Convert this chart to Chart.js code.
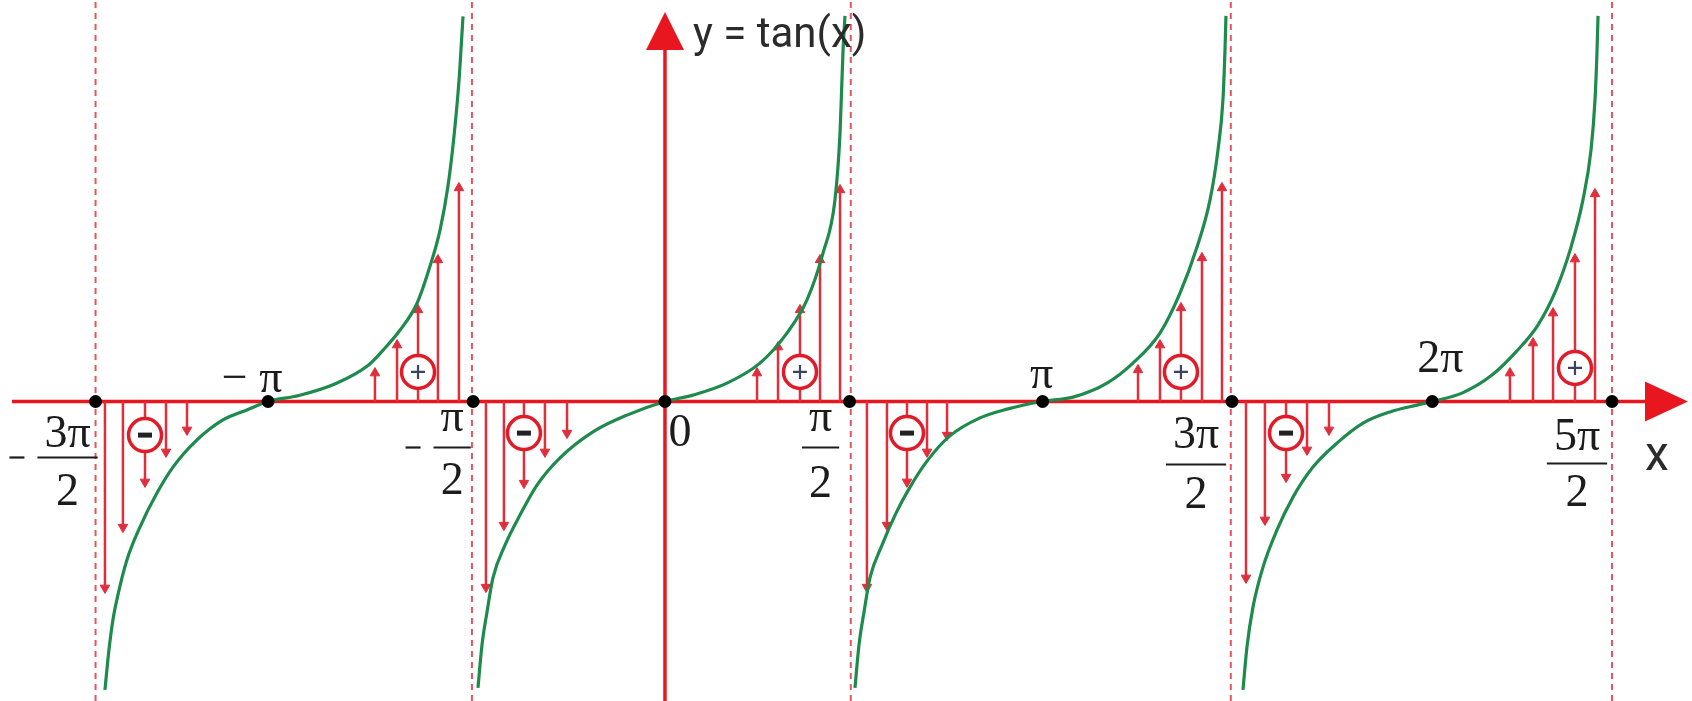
<!DOCTYPE html>
<html><head><meta charset="utf-8">
<script src="https://cdn.jsdelivr.net/npm/chart.js@4.4.1/dist/chart.umd.min.js"></script>
<style>html,body{margin:0;padding:0;background:#fff;}#wrap{width:1692px;height:701px;position:relative;}</style>
</head><body><div id="wrap"><canvas id="c"></canvas></div>
<script>
// ---- data: x in radians, y in tan(x) units ----
const tickValues = [-4.72, -3.29, -1.59, 0, 1.53, 3.13, 4.70, 6.36, 7.85];
const tickLabels = ['−3π/2', '−π', '−π/2', '0', 'π/2', 'π', '3π/2', '2π', '5π/2'];
const asymptotes = [-4.72, -1.60, 1.54, 4.69, 7.85];

const branch1X = [-4.642,-4.609,-4.576,-4.535,-4.460,-4.352,-4.211,-4.078,-3.879,-3.664,-3.465,-3.291,-3.034,-2.727,-2.462,-2.338,-2.197,-2.056,-1.948,-1.865,-1.799,-1.749,-1.708,-1.674];
const branch1Y = [-7.21,-6.21,-5.46,-4.84,-3.96,-3.14,-2.29,-1.64,-0.96,-0.46,-0.21,0,0.15,0.45,0.90,1.28,1.78,2.45,3.38,4.28,5.38,6.63,8.00,9.63];
const branch2X = [-1.550,-1.517,-1.475,-1.426,-1.326,-1.202,-1.061,-0.870,-0.597,-0.315,0,0.232,0.514,0.787,1.011,1.177,1.310,1.409,1.451,1.475,1.492];
const branch2Y = [-7.16,-6.09,-5.26,-4.41,-3.59,-2.84,-2.09,-1.41,-0.76,-0.34,0,0.16,0.46,0.96,1.71,2.54,3.71,5.04,6.71,8.71,9.64];
const branch3X = [1.575,1.608,1.650,1.699,1.799,1.915,2.031,2.172,2.362,2.611,2.835,3.125,3.382,3.664,3.879,4.103,4.269,4.410,4.518,4.584,4.625,4.642,4.650];
const branch3Y = [-7.16,-6.09,-5.26,-4.41,-3.59,-2.79,-2.14,-1.49,-0.86,-0.41,-0.19,0,0.11,0.46,0.96,1.71,2.71,3.86,5.04,6.29,7.54,8.79,9.64];
const branch4X = [4.791,4.824,4.874,4.957,5.073,5.206,5.371,5.570,5.786,6.010,6.234,6.358,6.606,6.855,7.054,7.236,7.386,7.510,7.609,7.676,7.709,7.726,7.734];
const branch4Y = [-7.21,-6.14,-5.14,-4.14,-3.21,-2.39,-1.64,-1.04,-0.54,-0.26,-0.09,0,0.21,0.66,1.24,1.91,2.79,3.86,5.04,6.29,7.54,8.79,9.64];

const stemX = [-4.642,-4.493,-4.310,-4.136,-3.962, -2.404,-2.221,-2.047,-1.882,-1.708,
               -1.484,-1.335,-1.169,-0.995,-0.812, 0.763,0.937,1.119,1.285,1.451,
               1.674,1.840,2.006,2.172,2.338, 3.921,4.103,4.277,4.451,4.617,
               4.816,4.973,5.148,5.322,5.504, 7.004,7.195,7.361,7.543,7.709];
const stemY = [-4.66,-3.14,-2.01,-1.26,-0.71, 0.71,1.41,2.29,3.54,5.34,
               -4.64,-3.09,-2.04,-1.26,-0.79, 0.71,1.36,2.29,3.54,5.29,
               -4.64,-3.09,-2.01,-1.26,-0.84, 0.79,1.41,2.34,3.59,5.34,
               -4.41,-2.96,-1.89,-1.21,-0.71, 0.71,1.46,2.21,3.56,5.19];

const signX = [-4.310,-2.047,-1.169,1.119,2.006,4.277,5.148,7.543];
const signY = [-0.84,0.74,-0.79,0.74,-0.79,0.74,-0.79,0.84];
const signType = ['−','+','−','+','−','+','−','+'];

// ---- styling ----
const RED = '#e8161f', STEM = '#df2f3d', DASH = '#e55560', GREEN = '#1e8a4c', INK = '#1c1c1c';
const X_MIN = -5.512, X_MAX = 8.513, Y_MIN = -7.4875, Y_MAX = 10.0375;

const pts = (xs, ys) => xs.map((x, i) => ({x, y: ys[i]}));
const asymData = [];
asymptotes.forEach(a => { asymData.push({x:a, y:Y_MIN}, {x:a, y:Y_MAX}, {x:a, y:null}); });
const stemData = [];
stemX.forEach((x, i) => { stemData.push({x, y:0}, {x, y:stemY[i]}, {x, y:null}); });

const curveDs = (xs, ys) => ({
  type:'line', data: pts(xs, ys), borderColor: GREEN, borderWidth: 3.2, pointRadius: 0,
  cubicInterpolationMode: 'monotone', fill: false, order: 6
});

const layout = {
  '−3π/2': {dx:-28, num:45, bar:56, den:103},
  '−π/2':  {dx:-21, num:29, bar:46, den:92},
  'π/2':   {dx:-29, num:29, bar:46, den:95},
  '3π/2':  {dx:-36, num:46, bar:63, den:106},
  '5π/2':  {dx:-35, num:48, bar:62, den:104},
  '0':     {dx:15, base:44},
  '−π':    {dx:-16, base:-10},
  'π':     {dx:-1, base:-14},
  '2π':    {dx:8, base:-30}
};

const axesPlugin = {
  id: 'axes',
  afterDatasetDraw(chart, args) {
    if (args.index !== 0) return;
    const {ctx, chartArea: ca, scales: {x, y}} = chart;
    const ay = y.getPixelForValue(0), ax = x.getPixelForValue(0);
    ctx.save();
    ctx.strokeStyle = RED; ctx.fillStyle = RED; ctx.lineWidth = 3.5;
    ctx.beginPath(); ctx.moveTo(ca.left + 12, ay); ctx.lineTo(ca.right - 40, ay); ctx.stroke();
    ctx.beginPath(); ctx.moveTo(ca.right - 47, ay - 20); ctx.lineTo(ca.right - 4, ay); ctx.lineTo(ca.right - 47, ay + 20); ctx.closePath(); ctx.fill();
    ctx.beginPath(); ctx.moveTo(ax, ca.bottom); ctx.lineTo(ax, ca.top + 45); ctx.stroke();
    ctx.beginPath(); ctx.moveTo(ax - 19, ca.top + 50); ctx.lineTo(ax, ca.top + 12); ctx.lineTo(ax + 19, ca.top + 50); ctx.closePath(); ctx.fill();
    ctx.restore();
  },
  afterDraw(chart) {
    const {ctx, chartArea: ca, scales: {x, y}} = chart;
    const ay = y.getPixelForValue(0), ax = x.getPixelForValue(0);
    ctx.save();
    ctx.fillStyle = INK; ctx.strokeStyle = INK;
    ctx.textAlign = 'center'; ctx.textBaseline = 'alphabetic';
    ctx.font = '46px "Liberation Serif", "DejaVu Serif", serif';
    tickValues.forEach((v, i) => {
      const lab = tickLabels[i], L = layout[lab];
      const px = x.getPixelForValue(v) + L.dx;
      if (lab.includes('/')) {
        const neg = lab.startsWith('−');
        const body = neg ? lab.slice(1) : lab;
        const [num, den] = body.split('/');
        const w = ctx.measureText(num).width / 2 + 7;
        ctx.fillText(num, px, ay + L.num);
        ctx.fillText(den, px, ay + L.den);
        ctx.lineWidth = 2.2;
        ctx.beginPath(); ctx.moveTo(px - w, ay + L.bar); ctx.lineTo(px + w, ay + L.bar); ctx.stroke();
        if (neg) { ctx.beginPath(); ctx.moveTo(px - w - 28, ay + L.bar); ctx.lineTo(px - w - 13, ay + L.bar); ctx.stroke(); }
      } else {
        ctx.fillText(lab === '−π' ? '− π' : lab, px, ay + L.base);
      }
    });
    ctx.font = '42px Roboto, "Noto Sans", sans-serif';
    ctx.fillStyle = '#2b2b2b';
    ctx.textAlign = 'left';
    ctx.fillText('y = tan(x)', ax + 28, ca.top + 47);
    ctx.font = '48px Roboto, "Noto Sans", sans-serif';
    ctx.textAlign = 'center';
    ctx.fillText('x', ca.right - 35, ay + 68);
    ctx.restore();
  }
};

new Chart(document.getElementById('c'), {
  type: 'scatter',
  data: { datasets: [
    { type:'line', data: asymData, borderColor: DASH, borderWidth: 2, borderDash: [6,5], pointRadius: 0, spanGaps: false, order: 10 },
    { type:'line', data: stemData, borderColor: STEM, borderWidth: 2.5, pointRadius: 0, spanGaps: false, order: 8 },
    { data: pts(stemX, stemY), pointStyle: 'triangle', pointRadius: 5.5, backgroundColor: STEM, borderColor: STEM, borderWidth: 1,
      pointRotation: c => (c.raw && c.raw.y < 0) ? 180 : 0, order: 7 },
    curveDs(branch1X, branch1Y), curveDs(branch2X, branch2Y), curveDs(branch3X, branch3Y), curveDs(branch4X, branch4Y),
    { data: pts(signX, signY), pointStyle: 'circle', pointRadius: 16.5, backgroundColor: '#ffffff', borderColor: '#e11c28', borderWidth: 3.5, order: 5 },
    { data: pts(signX, signY).filter((p, i) => signType[i] === '+'), pointStyle: 'cross', pointRadius: 7, borderColor: '#3a4462', borderWidth: 2.2, order: 4 },
    { data: pts(signX, signY).filter((p, i) => signType[i] === '−'), pointStyle: 'line', pointRadius: 7, borderColor: '#222', borderWidth: 5, order: 4 },
    { data: tickValues.map(v => ({x: v, y: 0})), pointStyle: 'circle', pointRadius: 6.5, backgroundColor: '#000', borderColor: '#000', borderWidth: 0, order: 1 }
  ]},
  options: {
    responsive: true, maintainAspectRatio: false, animation: false, events: [],
    layout: { padding: 0, autoPadding: false },
    plugins: { legend: { display: false }, tooltip: { enabled: false } },
    scales: {
      x: { type: 'linear', min: X_MIN, max: X_MAX, display: false },
      y: { type: 'linear', min: Y_MIN, max: Y_MAX, display: false }
    }
  },
  plugins: [axesPlugin]
});
</script></body></html>
